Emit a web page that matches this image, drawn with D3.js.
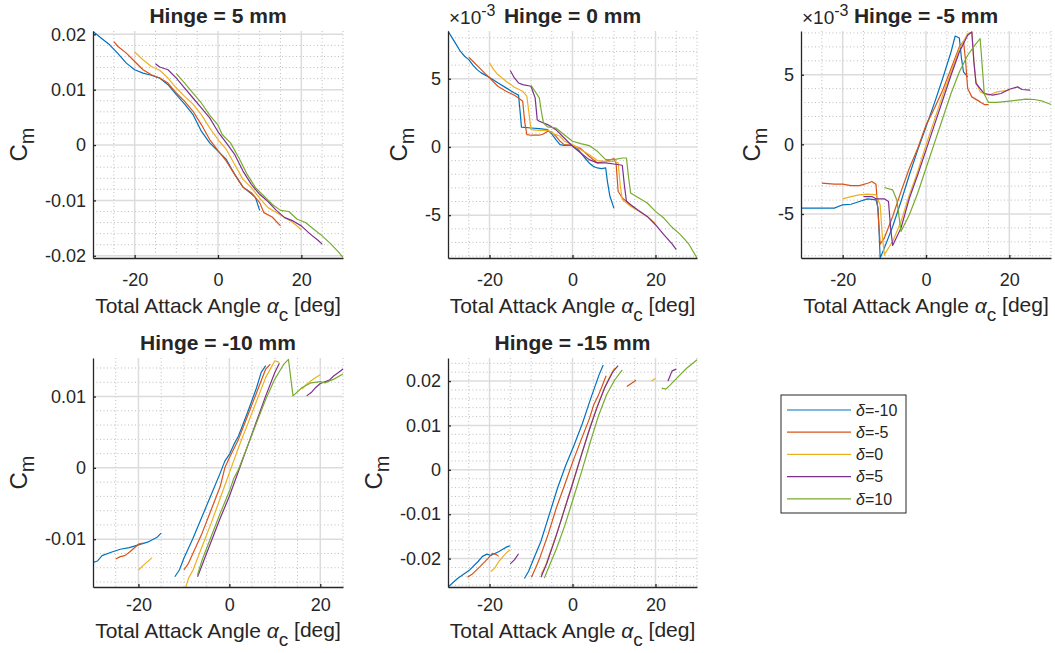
<!DOCTYPE html>
<html>
<head>
<meta charset="utf-8">
<script src="https://cdn.jsdelivr.net/npm/d3@7"></script>
<style>
  body { margin: 0; background: #fff; }
  text { font-family: Arial, "Liberation Sans", Helvetica, sans-serif; fill: #262626; }
</style>
</head>
<body>
<svg id="chart" width="1055" height="653"></svg>
<script>
// ---- data: [total attack angle (deg), Cm], null = gap in the measurement
// series order in every panel: delta = -10, -5, 0, 5, 10
const deltas = ["-10", "-5", "0", "5", "10"];
const hingeTitles = ["Hinge = 5 mm", "Hinge = 0 mm", "Hinge = -5 mm", "Hinge = -10 mm", "Hinge = -15 mm"];

const hinge5 = [
  [[-30,0.0205],[-28,0.0193],[-26,0.0181],[-24,0.0165],[-22,0.0148],[-20,0.0136],[-18,0.0130],[-16,0.0126],[-14,0.0121],[-12,0.0109],[-10,0.0091],[-8,0.0074],[-6,0.0055],[-4,0.0025],[-2,0.0004],[0,-0.0011],[2,-0.0026],[4,-0.0053],[6,-0.0076],[8,-0.0088],[9,-0.0095],[10,-0.0118]],
  [[-25,0.0187],[-24,0.0178],[-22,0.0166],[-20,0.0151],[-18,0.0136],[-16,0.0127],[-14,0.0121],[-12,0.0112],[-10,0.0094],[-8,0.0079],[-6,0.0061],[-4,0.0037],[-2,0.0010],[0,-0.0010],[2,-0.0029],[4,-0.0053],[6,-0.0076],[8,-0.0086],[10,-0.0104],[11,-0.0122],[13,-0.0130],[15,-0.0146]],
  [[-20,0.0168],[-18,0.0154],[-16,0.0142],[-14,0.0135],[-12,0.0121],[-10,0.0103],[-8,0.0088],[-6,0.0074],[-4,0.0055],[-2,0.0031],[0,0.0010],[2,-0.0008],[4,-0.0035],[6,-0.0062],[8,-0.0077],[10,-0.0096],[12,-0.0113],[14,-0.0122],[16,-0.0131],[18,-0.0140],[20,-0.0153]],
  [[-15,0.0147],[-14,0.0141],[-12,0.0136],[-10,0.0121],[-8,0.0103],[-6,0.0085],[-4,0.0067],[-2,0.0049],[0,0.0024],[2,0.0004],[4,-0.0017],[6,-0.0047],[8,-0.0071],[10,-0.0089],[12,-0.0102],[14,-0.0118],[16,-0.0131],[18,-0.0137],[20,-0.0146],[22,-0.0160],[24,-0.0172],[25,-0.0179]],
  [[-10,0.0129],[-8,0.0112],[-6,0.0094],[-4,0.0076],[-2,0.0054],[0,0.0036],[1,0.0019],[3,0.0004],[5,-0.0023],[7,-0.0053],[9,-0.0077],[11,-0.0092],[13,-0.0107],[15,-0.0118],[17,-0.0120],[19,-0.0134],[21,-0.0140],[23,-0.0152],[25,-0.0164],[27,-0.0178],[29,-0.0194],[30,-0.0203]]
];

// values in units of 1e-3
const hinge0 = [
  [[-30,8.5],[-29,8.0],[-28,7.5],[-27,7.0],[-26,6.65],[-25,6.4],[-24,6.0],[-23,5.67],[-22,5.43],[-20,5.1],[-18,4.7],[-16,4.33],[-14,3.96],[-13,3.8],[-12.6,2.5],[-12.3,1.45],[-10,1.39],[-8,1.34],[-6,1.27],[-5,0.95],[-4,0.54],[-3,0.17],[-2,0.12],[0,0.12],[1,-0.07],[2,-0.44],[3,-0.81],[4,-1.17],[5,-1.42],[6,-1.54],[7,-1.59],[8,-1.54],[8.4,-2.5],[9,-3.6],[10,-4.5]],
  [[-25,6.58],[-24,6.28],[-22,5.67],[-20,5.06],[-18,4.45],[-16,4.08],[-14,3.79],[-13,3.59],[-12,3.35],[-11.5,1.8],[-11,0.9],[-10,0.86],[-8,0.86],[-7,0.95],[-6,1.15],[-5,1.1],[-4,0.78],[-3,0.42],[-2,0.17],[0,0.12],[2,-0.12],[4,-0.68],[6,-1.17],[8,-1.05],[10,-0.86],[10.5,-1.2],[11,-3.25],[12,-3.74],[14,-4.23],[15,-4.5]],
  [[-20,6.16],[-19,5.67],[-18,5.31],[-16,4.82],[-14,4.38],[-12,4.08],[-11,3.72],[-10.5,2.5],[-10,1.27],[-8,1.22],[-6,1.22],[-4,0.9],[-3,0.78],[-2,0.42],[0,0.17],[2,-0.2],[4,-0.56],[6,-1.0],[8,-1.05],[10,-1.05],[11,-1.17],[11.5,-2.8],[12,-3.86],[14,-4.35],[16,-4.72],[18,-5.09],[20,-5.6]],
  [[-15,5.6],[-14,5.06],[-13,4.69],[-12,4.57],[-10,4.45],[-9,3.6],[-8.5,2.0],[-8,1.88],[-6,1.64],[-4,1.27],[-2,0.66],[0,0.05],[2,-0.44],[4,-0.93],[6,-1.17],[8,-1.17],[10,-1.25],[12,-1.34],[12.5,-2.8],[13,-3.98],[14,-4.23],[16,-4.67],[18,-5.09],[20,-5.7],[22,-6.43],[24,-7.11],[25,-7.53]],
  [[-10,4.52],[-8,3.6],[-7.5,2.6],[-7,1.76],[-6,1.47],[-4,1.39],[-2,0.9],[0,0.42],[2,0.24],[4,0.1],[6,-0.32],[8,-0.93],[10,-0.93],[12,-0.81],[13,-0.81],[13.5,-2.2],[14,-3.37],[16,-3.74],[18,-4.11],[20,-4.72],[22,-5.21],[24,-5.89],[26,-6.43],[28,-7.11],[30,-8.14]]
];

// values in units of 1e-3
const hingeM5 = [
  [[-30,-4.58],[-22,-4.58],[-20,-4.34],[-18,-4.3],[-16,-4.1],[-14,-3.91],[-12,-3.99],[-11.5,-4.58],[-11,-8.16],[-10,-7.45],[-8,-5.9],[-6,-4.1],[-4,-2.2],[-2,-0.41],[0,1.26],[2,2.94],[4,4.73],[6,6.63],[7,7.78],[8,7.64],[8.5,6.2],[9,5.2],[10,4.84]],
  [[-25,-2.79],[-22,-2.86],[-20,-2.86],[-18,-2.96],[-16,-2.96],[-14,-2.79],[-13,-2.67],[-12,-2.86],[-11.5,-5.0],[-11,-7.16],[-10,-6.73],[-8,-5.18],[-6,-3.39],[-4,-1.72],[-2,-0.29],[0,1.38],[2,2.58],[4,3.89],[6,5.44],[8,6.99],[9,7.4],[9.5,6.0],[10,4.01],[11,3.41],[13,3.05],[14,2.86],[15,2.86]],
  [[-20,-3.91],[-18,-3.75],[-16,-3.63],[-14,-3.58],[-12,-3.63],[-11,-4.34],[-10.5,-6.5],[-10,-7.92],[-8,-6.97],[-6,-5.54],[-4,-3.63],[-2,-1.96],[0,-0.05],[2,1.74],[4,3.53],[6,5.2],[8,6.87],[10,7.95],[11,8.07],[11.5,5.9],[12,4.49],[13,3.77],[15,3.53],[17,3.77],[20,3.89]],
  [[-15,-3.75],[-13,-3.75],[-12,-3.91],[-10,-3.91],[-9,-4.1],[-8.5,-6.0],[-8,-7.26],[-6,-6.01],[-4,-3.87],[-2,-2.2],[0,-0.41],[2,1.38],[4,3.17],[6,4.96],[8,6.63],[10,7.83],[11,8.07],[11.5,5.9],[12,4.37],[14,3.65],[16,3.53],[18,3.65],[20,3.96],[22,4.13],[23,3.94],[25,3.89]],
  [[-10,-3.1],[-8,-3.27],[-7,-3.99],[-6,-6.25],[-4,-5.06],[-2,-3.51],[0,-1.72],[2,0.07],[4,1.86],[6,3.65],[8,5.2],[10,6.4],[12,7.23],[13,7.59],[14,3.6],[15,3.01],[17,3.01],[20,3.1],[22,3.17],[24,3.25],[26,3.22],[28,3.1],[30,2.86]]
];

const hingeM10 = [
  [[-30,-0.01324],[-29,-0.01305],[-28,-0.0123],[-26,-0.01183],[-24,-0.01141],[-22,-0.01117],[-20,-0.0108],[-18,-0.01042],[-16,-0.00977],[-15,-0.00915],null,[-12,-0.01526],[-11,-0.01432],[-10,-0.01268],[-8,-0.00986],[-6,-0.00681],[-4,-0.00376],[-2,-0.0007],[-1,0.00094],[0,0.00188],[1,0.00329],[2,0.00446],[4,0.00775],[6,0.01127],[7,0.01338],[8,0.01432]],
  [[-25,-0.01277],[-24,-0.01244],[-23,-0.0123],[-22,-0.01183],[-20,-0.0107],[-19,-0.01056],null,[-10,-0.01432],[-9,-0.01338],[-8,-0.01197],[-6,-0.00915],[-4,-0.00587],[-2,-0.00258],[-1,0.0],[0,0.00141],[2,0.00399],[4,0.00728],[6,0.01056],[8,0.01385],[9,0.01455]],
  [[-20,-0.01432],[-19,-0.01371],[-18,-0.01315],[-17,-0.01258],null,[-9.6,-0.01676],[-9,-0.01549],[-8,-0.01432],[-6,-0.01103],[-4,-0.00775],[-2,-0.00423],[0,-0.0007],[2,0.00282],[4,0.0061],[6,0.00939],[8,0.01268],[10,0.01502],[11,0.01479],null,[16,0.01103],[17,0.01174],[18,0.01221],[19,0.01268],[20,0.01305]],
  [[-7,-0.01526],[-6,-0.01362],[-4,-0.01033],[-2,-0.00704],[0,-0.00399],[2,-0.00047],[4,0.00305],[6,0.00657],[8,0.01009],[10,0.01338],[11,0.01465],null,[17,0.01009],[18,0.01056],[19,0.01127],[20,0.01183],[22,0.0123],[23,0.01291],[24,0.01338],[25,0.01385]],
  [[-7,-0.0150],[-6,-0.01291],[-4,-0.00962],[-2,-0.00634],[0,-0.00329],[1,-0.00141],[2,-0.00023],[4,0.00305],[6,0.00634],[8,0.00962],[10,0.01244],[12,0.01455],[13,0.0152],[14,0.01009],[16,0.01127],[18,0.01192],[20,0.0121],[21,0.01192],[23,0.01244],[25,0.01315]]
];

const hingeM15 = [
  [[-30,-0.0264],[-27.7,-0.0245],[-24.7,-0.0225],[-22.7,-0.0206],[-21.7,-0.0195],[-20.6,-0.019],[-19.7,-0.0193],[-18.6,-0.0188],[-17.7,-0.0184],[-16.6,-0.0178],[-15.7,-0.0173],[-15,-0.0171],null,[-11.6,-0.0245],[-10.6,-0.0229],[-9.6,-0.0206],[-7.6,-0.0161],[-5.6,-0.0101],[-3.6,-0.0041],[-1.6,0.0011],[0.4,0.0056],[2.4,0.0105],[4.4,0.0161],[6.4,0.0214],[7.4,0.0236]],
  [[-25.3,-0.0242],[-24.3,-0.0236],[-22.3,-0.0218],[-20.3,-0.0199],[-19.3,-0.0188],[-18.3,-0.0191],[-17.8,-0.0195],null,[-9.9,-0.0242],[-8.9,-0.0221],[-7.9,-0.0199],[-5.9,-0.0146],[-3.9,-0.0086],[-1.9,-0.0034],[0.1,0.0019],[2.1,0.0068],[4.1,0.0116],[5.1,0.0146],[6.1,0.0165],[7.1,0.0188],[8.1,0.0212],null,[13.1,0.0188],[15.3,0.0202]],
  [[-19.7,-0.0229],[-18.7,-0.0221],[-17.7,-0.0206],[-16.7,-0.0195],[-15.7,-0.0185],[-15,-0.018],null,[-7.6,-0.0236],[-6.6,-0.0218],[-5.6,-0.0191],[-3.6,-0.0139],[-1.6,-0.0079],[0.4,-0.0019],[2.4,0.0041],[4.4,0.0101],[6.4,0.0154],[8.4,0.0199],[9.4,0.0218],[10.2,0.0230],null,[19,0.0200],[20,0.0206]],
  [[-15,-0.0212],[-14,-0.0203],[-13,-0.0189],null,[-7.6,-0.0242],[-6.2,-0.0211],[-4.2,-0.0156],[-2.2,-0.0097],[-0.2,-0.0038],[1.8,0.0023],[3.8,0.0083],[5.8,0.0138],[7.8,0.0186],[9.8,0.0222],[11,0.0235],null,[23,0.0200],[24,0.0223],[25,0.0227]],
  [[-6.8,-0.0244],[-5.8,-0.0221],[-3.8,-0.0176],[-1.8,-0.0124],[0.2,-0.0064],[2.2,-0.0004],[4.2,0.006],[6.2,0.012],[8.2,0.0169],[10.2,0.0203],[12,0.0225],null,[21.5,0.0184],[22.5,0.0182],[23.5,0.0191],[25.5,0.021],[27.5,0.0229],[29.5,0.0244],[30,0.0248]]
];

const xLims = [[-30,30],[-30,30],[-30,30],[-30,25],[-30,30]];
const yLims = [[-0.0204,0.0206],[-8.14,8.5],[-8.16,8.14],[-0.0167,0.0154],[-0.0264,0.0252]];
const xTicks = [-20, 0, 20];
const yTicks = [[-0.02,-0.01,0,0.01,0.02],[-5,0,5],[-5,0,5],[-0.01,0,0.01],[-0.02,-0.01,0,0.01,0.02]];
const yMinorStep = [0.002, 1, 1, 0.002, 0.002];
const yExponent = [null, "-3", "-3", null, null];

// ---- style
const colors = ["#0072BD", "#D95319", "#EDB120", "#7E2F8E", "#77AC30"];
const axisColor = "#262626";
const boxes = [
  {x0: 93,  x1: 343,  y0: 31,  y1: 258},
  {x0: 448, x1: 697,  y0: 31,  y1: 258},
  {x0: 801, x1: 1051, y0: 31,  y1: 258},
  {x0: 93,  x1: 343,  y0: 358, y1: 587},
  {x0: 448, x1: 697,  y0: 358, y1: 587}
];
const panelData = [hinge5, hinge0, hingeM5, hingeM10, hingeM15];

const svg = d3.select("#chart");

panelData.forEach(function (series, i) {
  var b = boxes[i];
  var x = d3.scaleLinear().domain(xLims[i]).range([b.x0, b.x1]);
  var y = d3.scaleLinear().domain(yLims[i]).range([b.y1, b.y0]);
  var g = svg.append("g").attr("class", "panel");

  // clip to the plot box
  g.append("clipPath").attr("id", "clip" + i)
    .append("rect").attr("x", b.x0).attr("y", b.y0 - 1)
    .attr("width", b.x1 - b.x0 + 1).attr("height", b.y1 - b.y0 + 2);

  // minor grid (dotted)
  var xMinor = d3.range(Math.ceil(xLims[i][0] / 5), Math.floor(xLims[i][1] / 5) + 1)
    .map(function (k) { return k * 5; })
    .filter(function (v) { return xTicks.indexOf(v) < 0 && v > xLims[i][0]; });
  var st = yMinorStep[i];
  var yMinor = d3.range(Math.ceil(yLims[i][0] / st - 1e-9), Math.floor(yLims[i][1] / st + 1e-9) + 1)
    .map(function (k) { return k * st; })
    .filter(function (v) { return !yTicks[i].some(function (t) { return Math.abs(t - v) < st / 10; }); });

  g.selectAll(".xminor").data(xMinor).enter().append("line")
    .attr("x1", function (d) { return x(d); }).attr("x2", function (d) { return x(d); })
    .attr("y1", b.y0).attr("y2", b.y1)
    .attr("stroke", "#bdbdbd").attr("stroke-width", 1).attr("stroke-dasharray", "1,2.5");
  g.selectAll(".yminor").data(yMinor).enter().append("line")
    .attr("x1", b.x0).attr("x2", b.x1)
    .attr("y1", function (d) { return y(d); }).attr("y2", function (d) { return y(d); })
    .attr("stroke", "#bdbdbd").attr("stroke-width", 1).attr("stroke-dasharray", "1,2.5");

  // major grid
  g.selectAll(".xmajor").data(xTicks).enter().append("line")
    .attr("x1", function (d) { return x(d); }).attr("x2", function (d) { return x(d); })
    .attr("y1", b.y0).attr("y2", b.y1)
    .attr("stroke", "#dcdcdc").attr("stroke-width", 1.5);
  g.selectAll(".ymajor").data(yTicks[i]).enter().append("line")
    .attr("x1", b.x0).attr("x2", b.x1)
    .attr("y1", function (d) { return y(d); }).attr("y2", function (d) { return y(d); })
    .attr("stroke", "#dcdcdc").attr("stroke-width", 1.5);

  // data lines
  var line = d3.line()
    .defined(function (d) { return d !== null; })
    .x(function (d) { return x(d[0]); })
    .y(function (d) { return y(d[1]); });
  g.append("g").attr("clip-path", "url(#clip" + i + ")")
    .selectAll("path").data(series).enter().append("path")
    .attr("d", line)
    .attr("fill", "none")
    .attr("stroke", function (d, j) { return colors[j]; })
    .attr("stroke-width", 1.2)
    .attr("stroke-linejoin", "round");

  // axes
  var fmt = function (v) { return v === 0 ? "0" : String(v); };
  var xAxis = g.append("g").attr("transform", "translate(0," + b.y1 + ")")
    .call(d3.axisBottom(x).tickValues(xTicks).tickFormat(fmt).tickSize(-3).tickSizeOuter(0).tickPadding(i < 3 ? 15 : 11));
  var yAxis = g.append("g").attr("transform", "translate(" + b.x0 + ",0)")
    .call(d3.axisLeft(y).tickValues(yTicks[i]).tickFormat(fmt).tickSize(-3).tickSizeOuter(0).tickPadding(7));
  [xAxis, yAxis].forEach(function (a) {
    a.attr("font-family", null).attr("font-size", null);
    a.select(".domain").attr("stroke", axisColor).attr("stroke-width", 1.3);
    a.selectAll(".tick line").attr("stroke", axisColor).attr("stroke-width", 1.3);
    a.selectAll(".tick text").style("font-size", "18px").attr("fill", axisColor);
  });

  var cx = (b.x0 + b.x1) / 2;
  var cy = (b.y0 + b.y1) / 2;

  // title
  g.append("text").attr("x", cx).attr("y", b.y0 - 8)
    .attr("text-anchor", "middle").style("font-size", "21px").style("font-weight", "bold")
    .text(hingeTitles[i]);

  // x label
  var xl = g.append("text").attr("x", cx).attr("y", b.y1 + (i < 3 ? 55 : 51))
    .attr("text-anchor", "middle").style("font-size", "21px");
  xl.append("tspan").text("Total Attack Angle ");
  xl.append("tspan").style("font-style", "italic").text("\u03b1");
  xl.append("tspan").attr("dy", "0.4em").style("font-size", "19px").text("c");
  xl.append("tspan").attr("dy", "-0.4em").text(" [deg]");

  // y label, placed left of the tick labels
  var minX = d3.min(yAxis.selectAll(".tick text").nodes(), function (n) {
    var bb = n.getBBox(); return bb.x;
  }) + b.x0;
  var yl = g.append("text")
    .attr("transform", "translate(" + (minX - 18) + "," + cy + ") rotate(-90)")
    .attr("text-anchor", "middle").style("font-size", "24px");
  yl.append("tspan").text("C");
  yl.append("tspan").attr("dy", "0.35em").style("font-size", "20px").text("m");

  // exponent
  if (yExponent[i]) {
    var ex = g.append("text").attr("x", b.x0 + 1).attr("y", b.y0 - 7).style("font-size", "19px");
    ex.append("tspan").text("\u00d710");
    ex.append("tspan").attr("dy", "-0.5em").style("font-size", "16px").text(yExponent[i]);
  }
});

// ---- legend
var lg = svg.append("g").attr("transform", "translate(781,395)");
lg.append("rect").attr("width", 125).attr("height", 118)
  .attr("fill", "#fff").attr("stroke", axisColor).attr("stroke-width", 1);
deltas.forEach(function (dl, j) {
  var yy = 15 + j * 22.2;
  lg.append("line").attr("x1", 6).attr("x2", 70).attr("y1", yy).attr("y2", yy)
    .attr("stroke", colors[j]).attr("stroke-width", 1.2);
  var t = lg.append("text").attr("x", 75).attr("y", yy).attr("dy", "0.36em").style("font-size", "16px");
  t.append("tspan").style("font-style", "italic").text("\u03b4");
  t.append("tspan").text("=" + dl);
});
</script>
</body>
</html>
